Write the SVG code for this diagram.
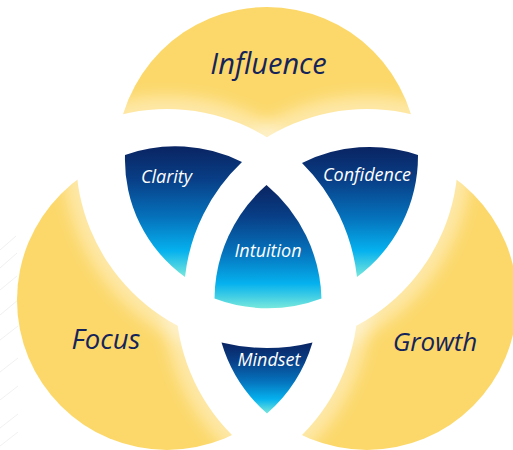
<svg xmlns="http://www.w3.org/2000/svg" width="513" height="450" viewBox="0 0 513 450">
  <style>
    .yl { fill: #fcd86a; }
    .ylab { font-family: "Open Sans", "Noto Sans", "Liberation Sans", sans-serif; font-style: italic; fill: #14245a; text-anchor: middle; }
    .blab { font-family: "Open Sans", "Noto Sans", "Liberation Sans", sans-serif; font-style: italic; fill: #ffffff; text-anchor: middle; font-size: 18px; }
    .glow { fill: none; stroke: #ffffff; stroke-width: 26; opacity: 0.42; }
    .bg { stroke: #e6e6e6; stroke-width: 0.6; fill: none; }
  </style>
  <defs>
    <linearGradient id="blue" x1="0" y1="0" x2="0" y2="1">
      <stop offset="0" stop-color="#0a2462"/>
      <stop offset="0.25" stop-color="#083e86"/>
      <stop offset="0.55" stop-color="#0573bd"/>
      <stop offset="0.8" stop-color="#05b1ee"/>
      <stop offset="1" stop-color="#78e8dc"/>
    </linearGradient>
    <filter id="blur" x="-20%" y="-20%" width="140%" height="140%">
      <feGaussianBlur stdDeviation="8"/>
    </filter>
    <mask id="mT" maskUnits="userSpaceOnUse" x="0" y="0" width="513" height="450">
      <rect width="513" height="450" fill="#fff"/>
      <circle cx="167" cy="300" r="191" fill="#000"/>
      <circle cx="367" cy="300" r="191" fill="#000"/>
    </mask>
    <mask id="mL" maskUnits="userSpaceOnUse" x="0" y="0" width="513" height="450">
      <rect width="513" height="450" fill="#fff"/>
      <circle cx="267" cy="157" r="191" fill="#000"/>
      <circle cx="367" cy="300" r="191" fill="#000"/>
    </mask>
    <mask id="mR" maskUnits="userSpaceOnUse" x="0" y="0" width="513" height="450">
      <rect width="513" height="450" fill="#fff"/>
      <circle cx="267" cy="157" r="191" fill="#000"/>
      <circle cx="167" cy="300" r="191" fill="#000"/>
    </mask>
    <clipPath id="cT"><circle cx="267" cy="157" r="150"/></clipPath>
    <clipPath id="cL"><circle cx="167" cy="300" r="150"/></clipPath>
    <clipPath id="cR"><circle cx="367" cy="300" r="150"/></clipPath>
  </defs>

  <g id="background-texture">
    <path class="bg" d="M0 250 L16 236 M0 268 L17 253 M0 290 L17 276 M0 315 L18 300 M0 340 L18 326 M0 372 L18 358 M0 400 L18 386 M0 428 L18 414 M0 446 L18 432"/>
  </g>

  <g id="influence">
    <g mask="url(#mT)">
      <circle class="yl" cx="267" cy="157" r="150"/>
      <g clip-path="url(#cT)">
        <g filter="url(#blur)">
          <circle class="glow" cx="167" cy="300" r="191"/>
          <circle class="glow" cx="367" cy="300" r="191"/>
        </g>
      </g>
    </g>
    <text class="ylab" x="268.5" y="74" font-size="29">Influence</text>
  </g>

  <g id="focus">
    <g mask="url(#mL)">
      <circle class="yl" cx="167" cy="300" r="150"/>
      <g clip-path="url(#cL)">
        <g filter="url(#blur)">
          <circle class="glow" cx="267" cy="157" r="191"/>
          <circle class="glow" cx="367" cy="300" r="191"/>
        </g>
      </g>
    </g>
    <text class="ylab" x="106" y="349" font-size="27.5">Focus</text>
  </g>

  <g id="growth">
    <g mask="url(#mR)">
      <circle class="yl" cx="367" cy="300" r="150"/>
      <g clip-path="url(#cR)">
        <g filter="url(#blur)">
          <circle class="glow" cx="267" cy="157" r="191"/>
          <circle class="glow" cx="167" cy="300" r="191"/>
        </g>
      </g>
    </g>
    <text class="ylab" x="435" y="351" font-size="26">Growth</text>
  </g>

  <g id="clarity">
    <path fill="url(#blue)" d="M125 155 A150 150 0 0 1 242 162 A186 186 0 0 0 185 277 A145 145 0 0 1 125 155 Z"/>
    <text class="blab" x="166.5" y="183">Clarity</text>
  </g>

  <g id="confidence">
    <path fill="url(#blue)" d="M302 163 A150 150 0 0 1 418 155 A151 151 0 0 1 357 277 A191 191 0 0 0 302 163 Z"/>
    <text class="blab" x="367" y="181">Confidence</text>
  </g>

  <g id="intuition">
    <path fill="url(#blue)" d="M266.5 185 A153 153 0 0 0 214.5 298.5 A151 151 0 0 0 321.5 298.5 A154 154 0 0 0 266.5 185 Z"/>
    <text class="blab" x="268" y="257" font-size="19">Intuition</text>
  </g>

  <g id="mindset">
    <path fill="url(#blue)" d="M221.5 342.5 A191 191 0 0 0 312.5 342.5 A151.5 151.5 0 0 1 267 413.5 A151.5 151.5 0 0 1 221.5 342.5 Z"/>
    <text class="blab" x="269" y="366" font-size="19.5">Mindset</text>
  </g>
</svg>
